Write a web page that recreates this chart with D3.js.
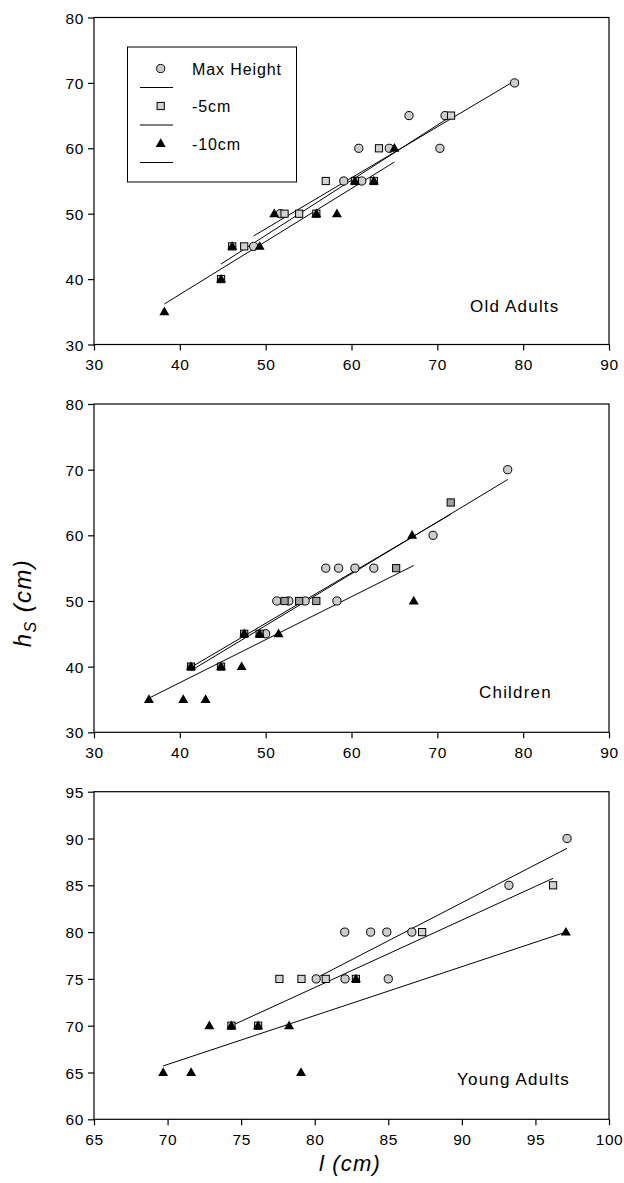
<!DOCTYPE html>
<html><head><meta charset="utf-8">
<script src="https://cdn.jsdelivr.net/npm/d3@7"></script>
<style>body{margin:0;background:#fff}svg{display:block}text{font-family:"Liberation Sans",Arial,sans-serif;fill:#000}</style>
</head><body>
<svg id="c" width="624" height="1183"></svg>
<script>
// ---------- data ----------
const seriesNames = ["Max Height", "-5cm", "-10cm"];
const panelLabels = ["Old Adults", "Children", "Young Adults"];

// Old Adults
const oldMaxX = [48.6, 51.7, 59.1, 61.2, 60.85, 64.4, 70.3, 66.7, 70.9, 79.0];
const oldMaxY = [45, 50, 55, 55, 60, 60, 60, 65, 65, 70];
const old5X = [44.8, 46.1, 47.5, 52.2, 53.9, 55.9, 57.0, 60.4, 62.6, 63.2, 71.6];
const old5Y = [40, 45, 45, 50, 50, 50, 55, 55, 55, 60, 65];
const old10X = [38.2, 44.8, 46.1, 49.3, 51.0, 55.9, 58.3, 60.4, 62.6, 65.0];
const old10Y = [35, 40, 45, 45, 50, 50, 50, 55, 55, 60];
const oldFitX = [[48.6, 79.0], [44.8, 71.6], [38.2, 65.0]];
const oldFitY = [[46.6, 70.3], [42.3, 64.9], [36.2, 57.9]];

// Children
const chMaxX = [50.0, 51.3, 52.7, 54.6, 58.3, 57.0, 58.5, 60.4, 62.6, 69.5, 78.2];
const chMaxY = [45, 50, 50, 50, 50, 55, 55, 55, 55, 60, 70];
const ch5X = [41.3, 44.8, 47.5, 49.3, 52.2, 53.9, 55.9, 65.2, 71.56];
const ch5Y = [40, 40, 45, 45, 50, 50, 50, 55, 65];
const ch10X = [36.4, 40.4, 43.0, 41.3, 44.8, 47.2, 47.5, 49.3, 51.5, 67.25, 67.06];
const ch10Y = [35, 35, 35, 40, 40, 40, 45, 45, 45, 50, 60];
const chFitX = [[41.3, 78.2], [41.3, 71.56], [36.4, 67.25]];
const chFitY = [[39.4, 68.5], [39.9, 63.2], [35.2, 55.4]];

// Young Adults
const yaMaxX = [80.1, 82.06, 85.0, 82.04, 83.8, 84.9, 86.6, 93.2, 97.15];
const yaMaxY = [75, 75, 75, 80, 80, 80, 80, 85, 90];
const ya5X = [74.34, 76.15, 77.6, 79.1, 80.75, 82.8, 87.3, 96.2];
const ya5Y = [70, 70, 75, 75, 75, 75, 80, 85];
const ya10X = [69.7, 71.6, 79.07, 72.84, 74.34, 76.15, 78.26, 82.8, 97.07];
const ya10Y = [65, 65, 65, 70, 70, 70, 70, 75, 80];
const yaFitX = [[80.3, 97.15], [74.34, 96.2], [69.7, 97.07]];
const yaFitY = [[75.25, 88.95], [70.0, 85.75], [65.7, 80.0]];

const xTicksA = [30, 40, 50, 60, 70, 80, 90];
const yTicksA = [30, 40, 50, 60, 70, 80];
const xTicksC = [65, 70, 75, 80, 85, 90, 95, 100];
const yTicksC = [60, 65, 70, 75, 80, 85, 90, 95];

// ---------- layout ----------
const svg = d3.select("#c");
const panels = [
  {label: panelLabels[0], xd: [30, 90], yd: [30, 80], xt: xTicksA, yt: yTicksA, top: 17.5, bot: 344.5,
   pts: [[oldMaxX, oldMaxY], [old5X, old5Y], [old10X, old10Y]], fx: oldFitX, fy: oldFitY,
   sqFill: "#d2d2d2", lab: [470, 312], legend: true},
  {label: panelLabels[1], xd: [30, 90], yd: [30, 80], xt: xTicksA, yt: yTicksA, top: 404, bot: 732.3,
   pts: [[chMaxX, chMaxY], [ch5X, ch5Y], [ch10X, ch10Y]], fx: chFitX, fy: chFitY,
   sqFill: "#a0a0a0", lab: [479, 698]},
  {label: panelLabels[2], xd: [65, 100], yd: [60, 95], xt: xTicksC, yt: yTicksC, top: 791.7, bot: 1119.3,
   pts: [[yaMaxX, yaMaxY], [ya5X, ya5Y], [ya10X, ya10Y]], fx: yaFitX, fy: yaFitY,
   sqFill: "#d2d2d2", lab: [457, 1085]}
];
const L = 94, R = 609;
const circFill = "#cccccc";

function marker(g, kind, cx, cy, fill) {
  if (kind === 0) g.append("circle").attr("cx", cx).attr("cy", cy).attr("r", 4.1)
      .attr("fill", circFill).attr("stroke", "#000").attr("stroke-width", 1);
  else if (kind === 1) g.append("rect").attr("x", cx - 3.6).attr("y", cy - 3.6).attr("width", 7.2).attr("height", 7.2)
      .attr("fill", fill).attr("stroke", "#000").attr("stroke-width", 1);
  else {
    const s = 10, h = s * Math.sqrt(3) / 2;
    g.append("path").attr("d", `M${cx},${cy - h * 0.6}L${cx + s / 2},${cy + h * 0.4}L${cx - s / 2},${cy + h * 0.4}Z`)
      .attr("fill", "#000");
  }
}

panels.forEach(p => {
  const x = d3.scaleLinear().domain(p.xd).range([L, R]);
  const y = d3.scaleLinear().domain(p.yd).range([p.bot, p.top]);
  const g = svg.append("g");
  g.append("rect").attr("x", L).attr("y", p.top).attr("width", R - L).attr("height", p.bot - p.top)
    .attr("fill", "none").attr("stroke", "#000").attr("stroke-width", 1.2);
  const xa = g.append("g").attr("transform", `translate(0,${p.bot})`)
    .call(d3.axisBottom(x).tickValues(p.xt).tickSizeOuter(0).tickSizeInner(6).tickPadding(5).tickFormat(d3.format("d")));
  const ya = g.append("g").attr("transform", `translate(${L},0)`)
    .call(d3.axisLeft(y).tickValues(p.yt).tickSizeOuter(0).tickSizeInner(6).tickPadding(4).tickFormat(d3.format("d")));
  [xa, ya].forEach(a => {
    a.select(".domain").remove();
    a.selectAll("line").attr("stroke", "#000").attr("stroke-width", 1.2);
    a.selectAll("text").style("font-family", '"Liberation Sans",Arial,sans-serif').style("font-size", "15.5px")
      .style("letter-spacing", "0.6px").attr("fill", "#000");
  });
  xa.selectAll("text").attr("dy", "0.95em");
  ya.selectAll("text").attr("dy", "0.36em");
  p.fx.forEach((fx, i) => {
    g.append("line").attr("x1", x(fx[0])).attr("y1", y(p.fy[i][0])).attr("x2", x(fx[1])).attr("y2", y(p.fy[i][1]))
      .attr("stroke", "#000").attr("stroke-width", 1);
  });
  p.pts.forEach((s, k) => {
    s[0].forEach((xv, j) => marker(g, k, x(xv), y(s[1][j]), p.sqFill));
  });
  g.append("text").attr("x", p.lab[0]).attr("y", p.lab[1]).style("font-size", "17px").style("letter-spacing", "1.2px")
    .text(p.label);
  if (p.legend) {
    const lg = g.append("g");
    lg.append("rect").attr("x", 127.5).attr("y", 47).attr("width", 169).attr("height", 135)
      .attr("fill", "#fff").attr("stroke", "#000").attr("stroke-width", 1);
    const rows = [68.5, 106, 143.5];
    seriesNames.forEach((n, i) => {
      marker(lg, i, 160.7, rows[i], p.sqFill);
      lg.append("line").attr("x1", 140).attr("x2", 173).attr("y1", rows[i] + 19).attr("y2", rows[i] + 19)
        .attr("stroke", "#000").attr("stroke-width", 1);
      lg.append("text").attr("x", 192).attr("y", rows[i] + 6).style("font-size", "16px").style("letter-spacing", "0.9px").text(n);
    });
  }
});

svg.append("text").attr("x", 350).attr("y", 1171).attr("text-anchor", "middle")
  .style("font-size", "22px").style("font-style", "italic").style("letter-spacing", "1.2px").text("l (cm)");
const yt = svg.append("text").attr("transform", "translate(31,603) rotate(-90)").attr("text-anchor", "middle")
  .style("font-size", "24px").style("font-style", "italic").style("letter-spacing", "1.4px");
yt.append("tspan").text("h");
yt.append("tspan").attr("dy", 5).style("font-size", "16px").text("S");
yt.append("tspan").attr("dy", -5).text(" (cm)");
</script>
</body></html>
